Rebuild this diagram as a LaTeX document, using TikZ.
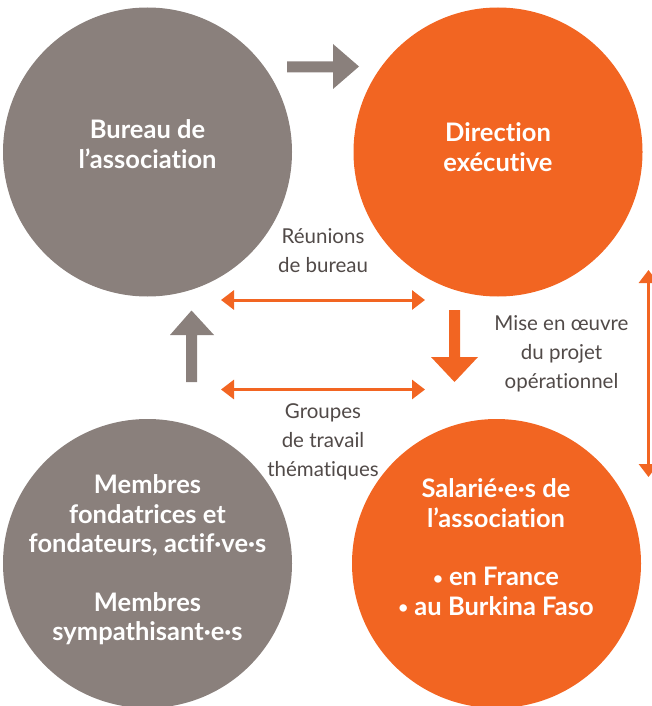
\documentclass[tikz,border=0pt]{standalone}
\usepackage{fontspec}
\setmainfont{Lato}[Ligatures={NoCommon}]
\usetikzlibrary{arrows.meta}
\definecolor{cgray}{HTML}{8A807C}
\definecolor{corange}{HTML}{F26522}
\definecolor{ctext}{HTML}{514A48}
\newcommand{\smbul}{{\fontsize{17}{29}\selectfont\raisebox{1.5pt}{•}}}
\begin{document}
\begin{tikzpicture}[x=1pt,y=-1pt,
  disc/.style={circle,inner sep=0pt,minimum size=289pt},
  bigtxt/.style={text=white,font=\fontsize{25.5}{29.5}\selectfont\bfseries,align=center,inner sep=0pt},
  smalltxt/.style={text=ctext,font=\fontsize{20.5}{29}\selectfont,align=center,inner sep=0pt},
  dbl/.style={draw=corange,line width=3pt,{Triangle[length=13pt,width=19pt]}-{Triangle[length=13pt,width=19pt]}},
]
\useasboundingbox (0,0) rectangle (651,706);
% circles
\node[disc,fill=cgray] (bureau) at (147.5,152) {};
\node[disc,fill=corange] (direction) at (498,152) {};
\node[disc,fill=cgray] (membres) at (147.5,563.5) {};
\node[disc,fill=corange] (salaries) at (496.5,563.5) {};
% circle texts
\node[bigtxt] (tbureau) at (147.5,144) {Bureau de\\l’association};
\node[bigtxt] (tdirection) at (498,147) {Direction\\exécutive};
\node[bigtxt] (tmembres) at (147.5,560) {Membres\\fondatrices et\\fondateurs, actif·ve·s\\[29pt]Membres\\sympathisant·e·s};
\node[bigtxt] (tsalaries) at (496,547) {Salarié·e·s de\\l’association\\[29pt]\smbul{} en France\\\smbul{} au Burkina Faso};
% labels
\node[smalltxt] (lreunions) at (323,251) {Réunions\\de bureau};
\node[smalltxt] (lgroupes) at (323,442) {Groupes\\de travail\\thématiques};
\node[smalltxt] (lmise) at (561.5,354) {Mise en œuvre\\du projet\\opérationnel};
% block arrows
\fill[cgray] (287,61.5) -- (333,61.5) -- (333,44) -- (359,66.5) -- (333,89) -- (333,72.5) -- (287,72.5) -- cycle;
\fill[cgray] (186,382) -- (186,335) -- (170,335) -- (191.5,310.5) -- (214,335) -- (197,335) -- (197,382) -- cycle;
\fill[corange] (449,310) -- (460,310) -- (460,357) -- (478,357) -- (454.5,382) -- (431,357) -- (449,357) -- cycle;
% double arrows
\coordinate (r1a) at (221,300);
\coordinate (r1b) at (425,300);
\coordinate (r2a) at (221,389.5);
\coordinate (r2b) at (425,389.5);
\coordinate (r3a) at (648.5,270);
\coordinate (r3b) at (648.5,477);
\draw[dbl] (r1a) -- (r1b);
\draw[dbl] (r2a) -- (r2b);
\draw[dbl] (r3a) -- (r3b);
\end{tikzpicture}
\end{document}
